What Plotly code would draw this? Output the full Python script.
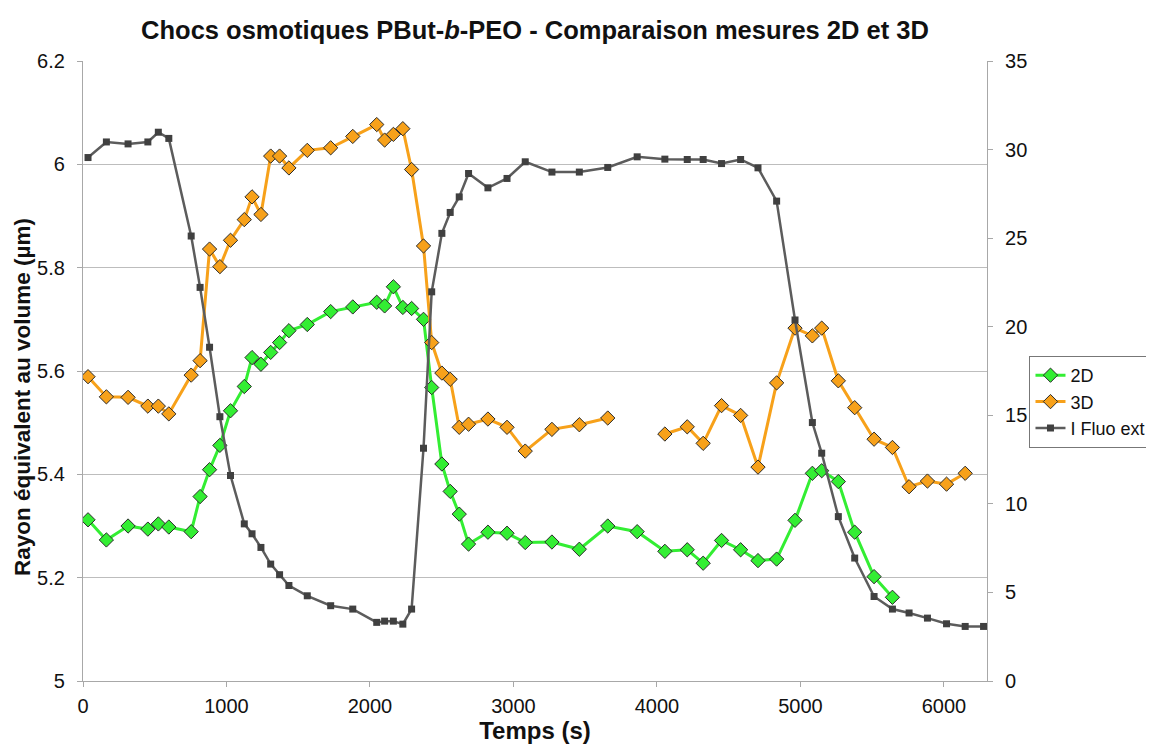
import plotly.graph_objects as go

temps = [35, 163, 314, 452, 525, 598, 754, 816, 882, 954, 1028, 1124, 1178, 1240, 1308, 1370,
         1435, 1563, 1726, 1880, 2047, 2102, 2163, 2229, 2290, 2373, 2430, 2501, 2559, 2622,
         2687, 2822, 2955, 3082, 3268, 3459, 3657, 3862, 4055, 4211, 4322, 4450, 4583, 4704,
         4834, 4962, 5083, 5148, 5264, 5378, 5513, 5641, 5757, 5885, 6018, 6148, 6276]

rayon_2d = [5.312, 5.273, 5.300, 5.294, 5.304, 5.298, 5.289, 5.357, 5.409, 5.456, 5.523, 5.570,
            5.626, 5.613, 5.636, 5.655, 5.678, 5.690, 5.715, 5.724, 5.733, 5.726, 5.763, 5.723,
            5.721, 5.700, 5.568, 5.420, 5.367, 5.323, 5.265, 5.288, 5.286, 5.268, 5.269, 5.255,
            5.300, 5.289, 5.251, 5.254, 5.228, 5.272, 5.254, 5.233, 5.236, 5.311, 5.402, 5.407,
            5.386, 5.288, 5.202, 5.162, None, None, None, None, None]

rayon_3d = [5.589, 5.550, 5.549, 5.532, 5.532, 5.517, 5.592, 5.620, 5.836, 5.802, 5.853, 5.893,
            5.937, 5.903, 6.016, 6.016, 5.993, 6.027, 6.032, 6.054, 6.077, 6.047, 6.058, 6.069,
            5.990, 5.842, 5.655, 5.596, 5.584, 5.491, 5.497, 5.507, 5.491, 5.445, 5.487, 5.496,
            5.509, None, 5.478, 5.492, 5.460, 5.533, 5.514, 5.414, 5.577, 5.683, 5.668, 5.683,
            5.581, 5.529, 5.468, 5.452, 5.376, 5.387, 5.381, 5.402, None]

fluo_ext = [29.55, 30.43, 30.32, 30.43, 30.98, 30.63, 25.12, 22.22, 18.84, 14.92, 11.60, 8.87,
            8.31, 7.54, 6.60, 6.00, 5.39, 4.81, 4.25, 4.06, 3.31, 3.38, 3.38, 3.21, 4.06, 13.14,
            21.97, 25.27, 26.45, 27.33, 28.65, 27.84, 28.37, 29.31, 28.73, 28.73, 28.99, 29.59,
            29.46, 29.44, 29.44, 29.21, 29.44, 28.97, 27.09, 20.38, 14.59, 12.86, 9.28, 6.94,
            4.77, 4.06, 3.84, 3.55, 3.23, 3.08, 3.08]

left_ticks = [5, 5.2, 5.4, 5.6, 5.8, 6, 6.2]
left_tick_text = ["5", "5.2", "5.4", "5.6", "5.8", "6", "6.2"]
right_ticks = [0, 5, 10, 15, 20, 25, 30, 35]
x_ticks = [0, 1000, 2000, 3000, 4000, 5000, 6000]

FONT = "Arial, 'Liberation Sans', Helvetica, sans-serif"
GREEN = "#33ee33"
ORANGE = "#f7a11a"
GRAY = "#5c5c5c"

W, H = 1146, 738  # page body adds an 8 px offset

fig = go.Figure()
fig.add_trace(go.Scatter(
    x=temps, y=rayon_2d, name="2D", mode="lines+markers",
    line=dict(color=GREEN, width=3),
    marker=dict(symbol="diamond", size=11, color=GREEN, line=dict(color="#2b2b2b", width=1)),
))
fig.add_trace(go.Scatter(
    x=temps, y=rayon_3d, name="3D", mode="lines+markers",
    line=dict(color=ORANGE, width=3),
    marker=dict(symbol="diamond", size=11, color=ORANGE, line=dict(color="#2b2b2b", width=1)),
))
fig.add_trace(go.Scatter(
    x=temps, y=fluo_ext, name="I Fluo ext", mode="lines+markers", yaxis="y2",
    line=dict(color=GRAY, width=2.5),
    marker=dict(symbol="square", size=7, color="#404040"),
))

axis_line = "#a8a8a8"
fig.update_layout(
    width=W, height=H,
    paper_bgcolor="white", plot_bgcolor="white",
    font=dict(family=FONT, size=20, color="#111111"),
    margin=dict(l=75, r=167, t=53, b=65, autoexpand=False),
    title=dict(
        text="<b>Chocs osmotiques PBut-<i>b</i>-PEO - Comparaison mesures 2D et 3D</b>",
        x=(75 + 452) / W, xanchor="center", y=1 - 22 / H, yanchor="middle",
        font=dict(family=FONT, size=25.5, color="#111111"),
    ),
    xaxis=dict(
        range=[0, 6300], tickvals=x_ticks, showgrid=False, zeroline=False,
        showline=True, linecolor=axis_line, linewidth=1.2,
        ticks="outside", ticklen=5, tickcolor=axis_line, ticklabelstandoff=2,
        title=dict(text="<b>Temps (s)</b>", font=dict(size=24), standoff=2),
    ),
    yaxis=dict(
        range=[5, 6.2], tickvals=left_ticks, ticktext=left_tick_text,
        showgrid=True, gridcolor="#bdbdbd", gridwidth=1.2, zeroline=False,
        showline=True, linecolor=axis_line, linewidth=1.2,
        ticks="outside", ticklen=5, tickcolor=axis_line, ticklabelstandoff=8,
    ),
    yaxis2=dict(
        range=[0, 35], tickvals=right_ticks, overlaying="y", side="right",
        showgrid=False, zeroline=False,
        showline=True, linecolor=axis_line, linewidth=1.2,
        ticks="outside", ticklen=5, tickcolor=axis_line, ticklabelstandoff=8,
    ),
    legend=dict(
        x=1.047, xanchor="left", y=0.45, yanchor="middle",
        bordercolor="#777777", borderwidth=1, bgcolor="white",
        font=dict(size=18), tracegroupgap=0, itemwidth=30,
    ),
    annotations=[dict(
        text="<b>Rayon équivalent au volume (µm)</b>", textangle=-90,
        xref="paper", yref="paper", x=-0.0675, y=0.458,
        xanchor="center", yanchor="middle", showarrow=False,
        font=dict(family=FONT, size=22.5, color="#111111"),
    )],
    showlegend=True,
)

fig.write_html("out.html")
